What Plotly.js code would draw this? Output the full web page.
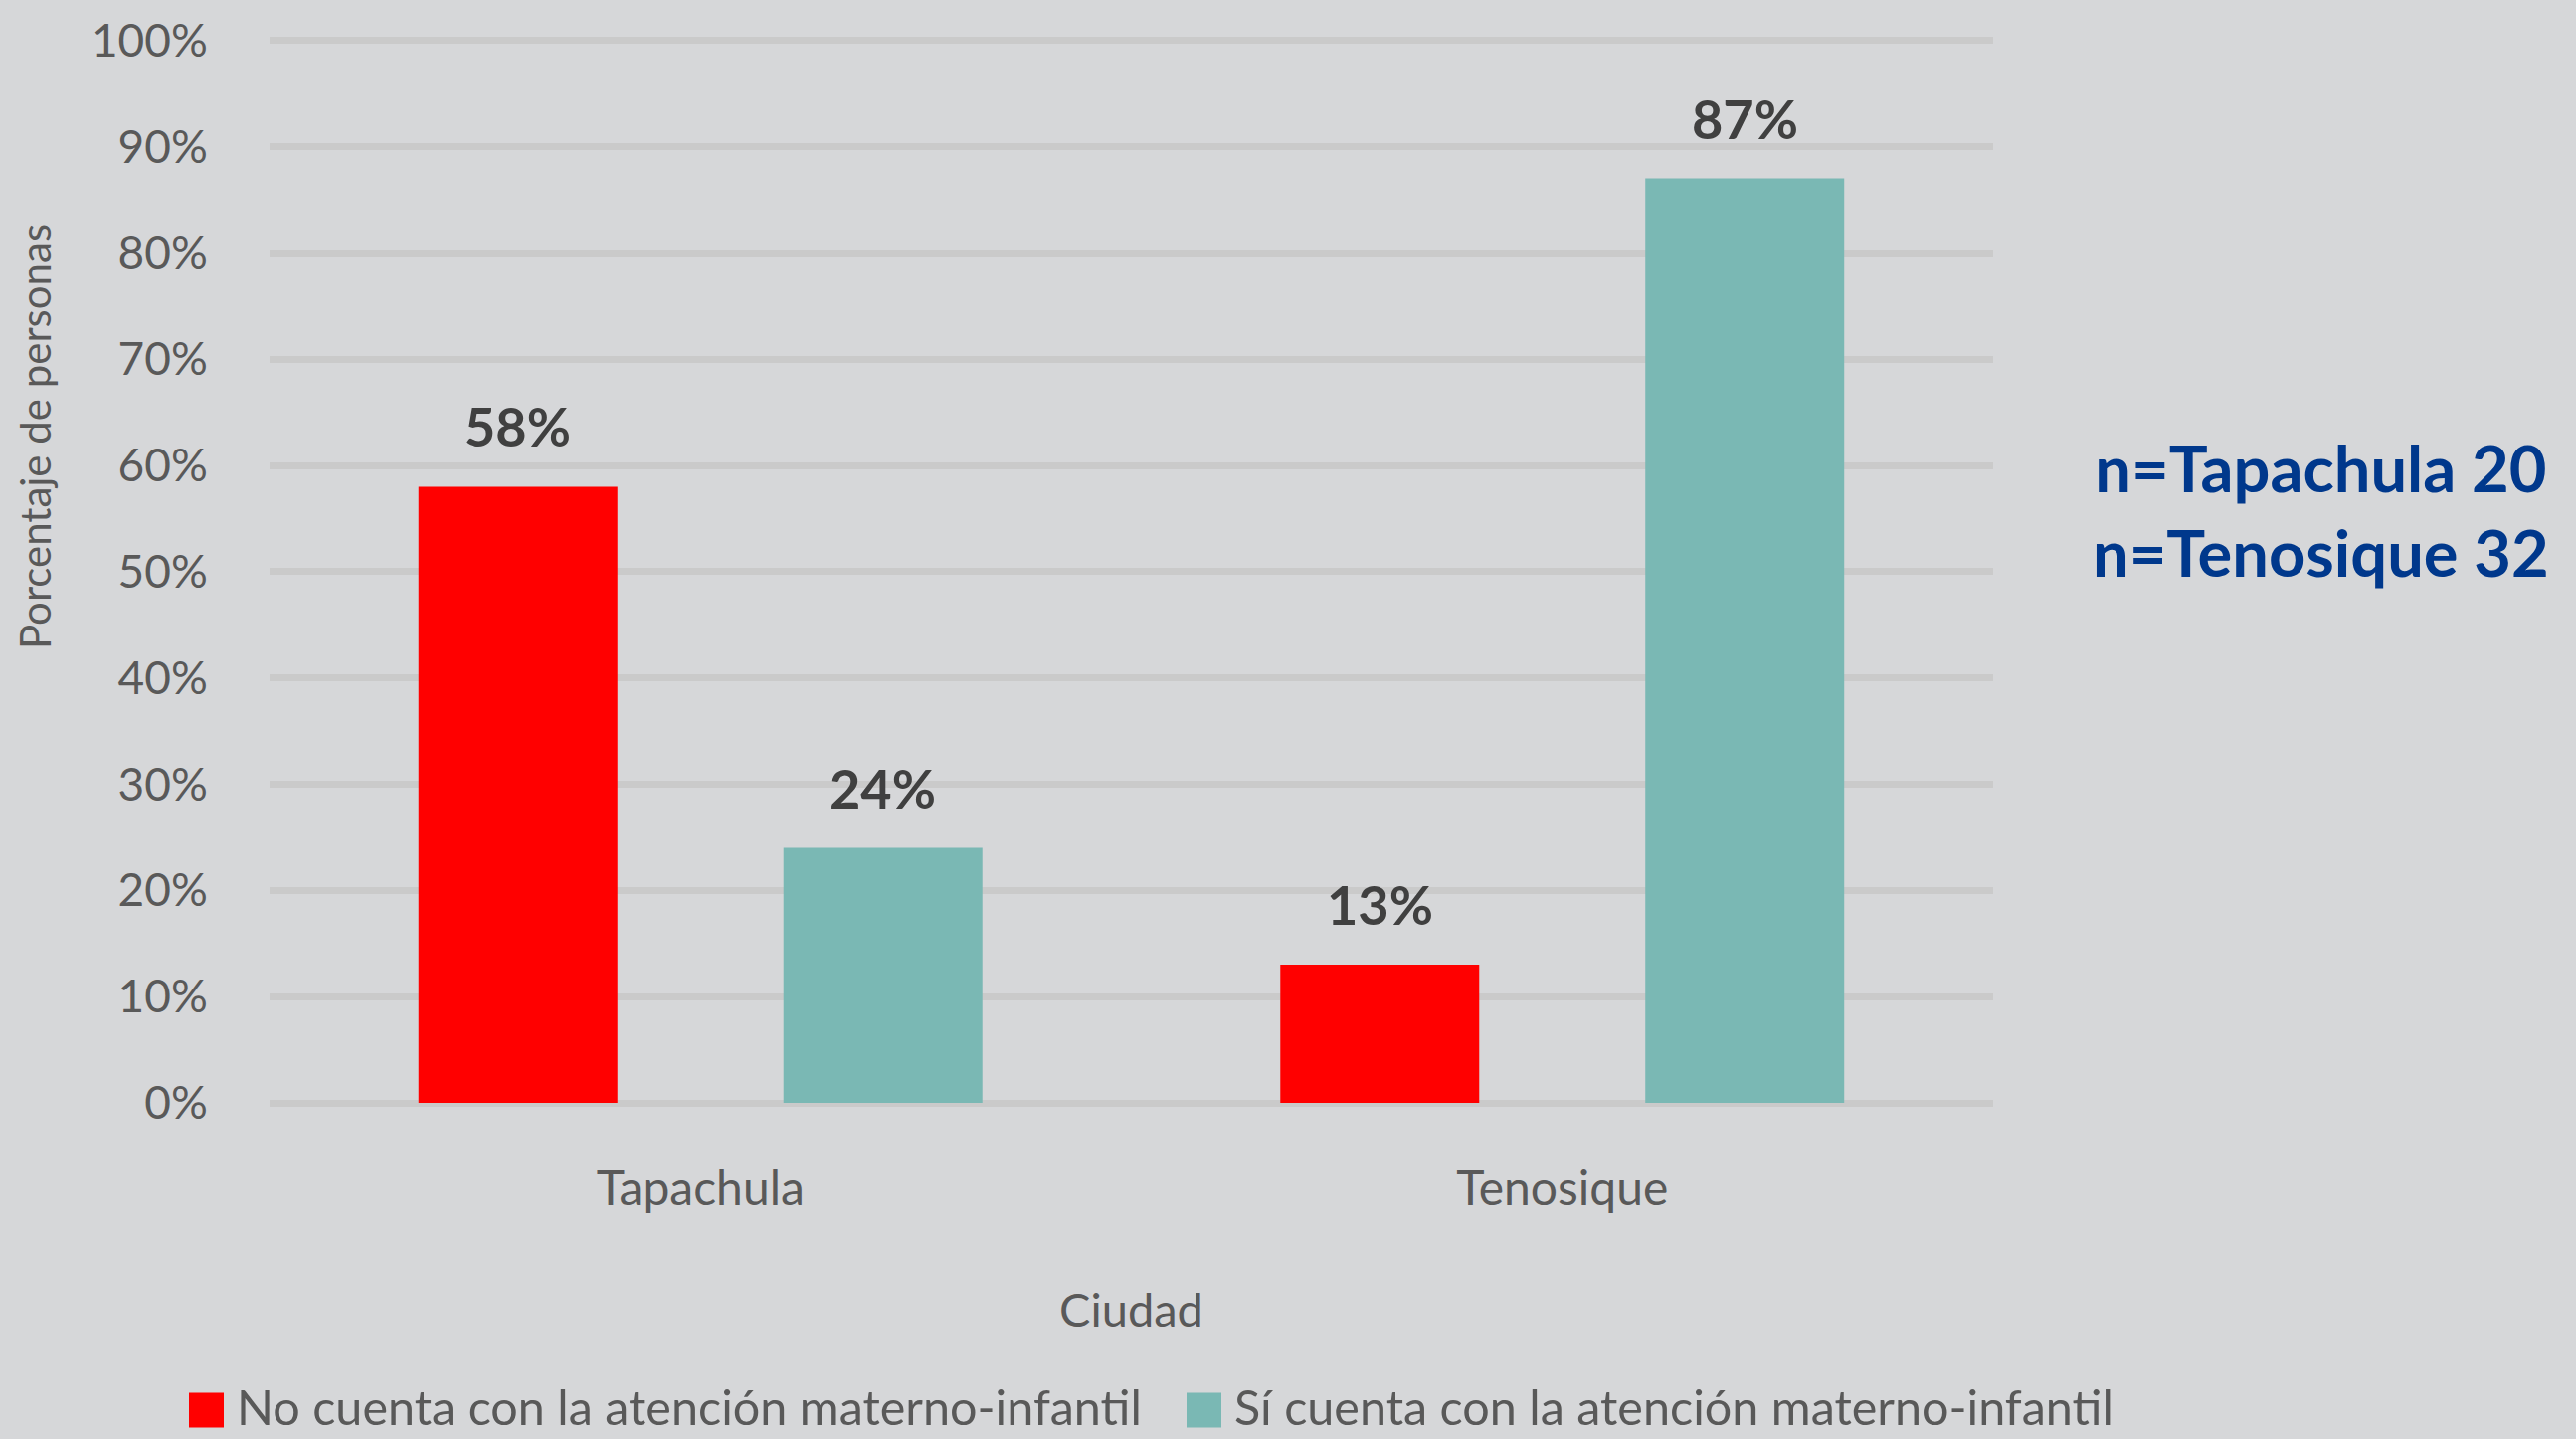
<!DOCTYPE html>
<html>
<head>
<meta charset="utf-8">
<script src="https://cdn.plot.ly/plotly-3.0.1.min.js"></script>
<style>
  html, body { margin: 0; padding: 0; background: #d6d7d9; }
  #chart { width: 2590px; height: 1447px; }
</style>
</head>
<body>
<div id="chart"></div>
<script>
// ---- Data ----
const categories = ["Tapachula", "Tenosique"];
const seriesNames = [
  "No cuenta con la atención materno-infantil",
  "Sí cuenta con la atención materno-infantil"
];
const noCuenta = [0.58, 0.13];
const siCuenta = [0.24, 0.87];
const yTickValues = [0, 0.1, 0.2, 0.3, 0.4, 0.5, 0.6, 0.7, 0.8, 0.9, 1.0];
const sampleNote = ["n=Tapachula 20", "n=Tenosique 32"];
const yAxisTitle = "Porcentaje de personas";
const xAxisTitle = "Ciudad";

// ---- Style ----
const colors = ["#ff0000", "#7ab8b4"];
const FONT = "Lato, 'Open Sans', sans-serif";
const BG = "#d6d7d9";
const GRID = "#cacaca";
const TXT = "#595959";

const W = 2590, H = 1447;
const margin = { l: 271, r: 586, t: 30, b: 338 };
const plotW = W - margin.l - margin.r;
const plotH = H - margin.t - margin.b;
const px2x = p => (p - margin.l) / plotW;
const px2y = p => (H - margin.b - p) / plotH;

const bargap = 0.153;
const bargroupgap = 0.455;
const nSeries = 2;
const slot = (1 - bargap) / nSeries;

const seriesValues = [noCuenta, siCuenta];

const traces = seriesValues.map((vals, s) => ({
  type: "bar",
  name: seriesNames[s],
  x: categories,
  y: vals,
  marker: { color: colors[s] },
  showlegend: false,
  hoverinfo: "skip"
}));

// Data labels tied to data through the axis scales
const annotations = [];
seriesValues.forEach((vals, s) => {
  vals.forEach((v, i) => {
    annotations.push({
      x: i + (s - (nSeries - 1) / 2) * slot,
      y: v,
      xref: "x", yref: "y",
      xanchor: "center",
      text: Math.round(v * 100) + "%",
      showarrow: false,
      yanchor: "bottom",
      yshift: 26,
      font: { family: FONT, size: 54, color: "#404040", weight: 700 }
    });
  });
});

// Y axis title
annotations.push({
  xref: "paper", yref: "paper",
  x: px2x(35), y: px2y(439),
  xanchor: "center", yanchor: "middle",
  text: yAxisTitle, textangle: -90,
  showarrow: false,
  font: { family: FONT, size: 42, color: TXT }
});

// Sample note
annotations.push({
  xref: "paper", yref: "paper",
  x: px2x(2333), y: px2y(512),
  xanchor: "center", yanchor: "middle",
  text: sampleNote.join("<br>"),
  showarrow: false,
  align: "center",
  font: { family: FONT, size: 65, color: "#00388c", weight: 700 }
});

// Manual legend (large square keys)
const shapes = [];
const legendKeyX = [190, 1193];
const legendKeySize = 35;
const legendCenterY = 1414;
seriesNames.forEach((name, s) => {
  shapes.push({
    type: "rect", xref: "paper", yref: "paper",
    x0: px2x(legendKeyX[s]), x1: px2x(legendKeyX[s] + legendKeySize),
    y0: px2y(legendCenterY + 4 + legendKeySize / 2), y1: px2y(legendCenterY + 4 - legendKeySize / 2),
    fillcolor: colors[s], line: { width: 0 }
  });
  annotations.push({
    xref: "paper", yref: "paper",
    x: px2x(legendKeyX[s] + legendKeySize + 12), y: px2y(legendCenterY),
    xanchor: "left", yanchor: "middle",
    borderpad: 0,
    text: name, showarrow: false,
    font: { family: FONT, size: 48.5, color: TXT }
  });
});

const layout = {
  width: W, height: H,
  margin: margin,
  paper_bgcolor: BG,
  plot_bgcolor: BG,
  barmode: "group",
  bargap: bargap,
  bargroupgap: bargroupgap,
  showlegend: false,
  font: { family: FONT, color: TXT },
  xaxis: {
    type: "category",
    tickfont: { family: FONT, size: 48, color: TXT },
    ticks: "outside", ticklen: 44, tickcolor: "rgba(0,0,0,0)",
    showgrid: false, showline: false, zeroline: false,
    title: { text: xAxisTitle, font: { family: FONT, size: 47, color: TXT }, standoff: 80 }
  },
  yaxis: {
    range: [0, 1.01],
    tickvals: yTickValues,
    tickformat: ".0%",
    tickfont: { family: FONT, size: 46, color: TXT },
    ticks: "outside", ticklen: 52, tickcolor: "rgba(0,0,0,0)",
    showgrid: true, gridcolor: GRID, gridwidth: 7,
    zeroline: true, zerolinecolor: GRID, zerolinewidth: 7,
    showline: false,
    fixedrange: true
  },
  annotations: annotations,
  shapes: shapes
};

Plotly.newPlot("chart", traces, layout, { displayModeBar: false, staticPlot: true });
</script>
</body>
</html>
